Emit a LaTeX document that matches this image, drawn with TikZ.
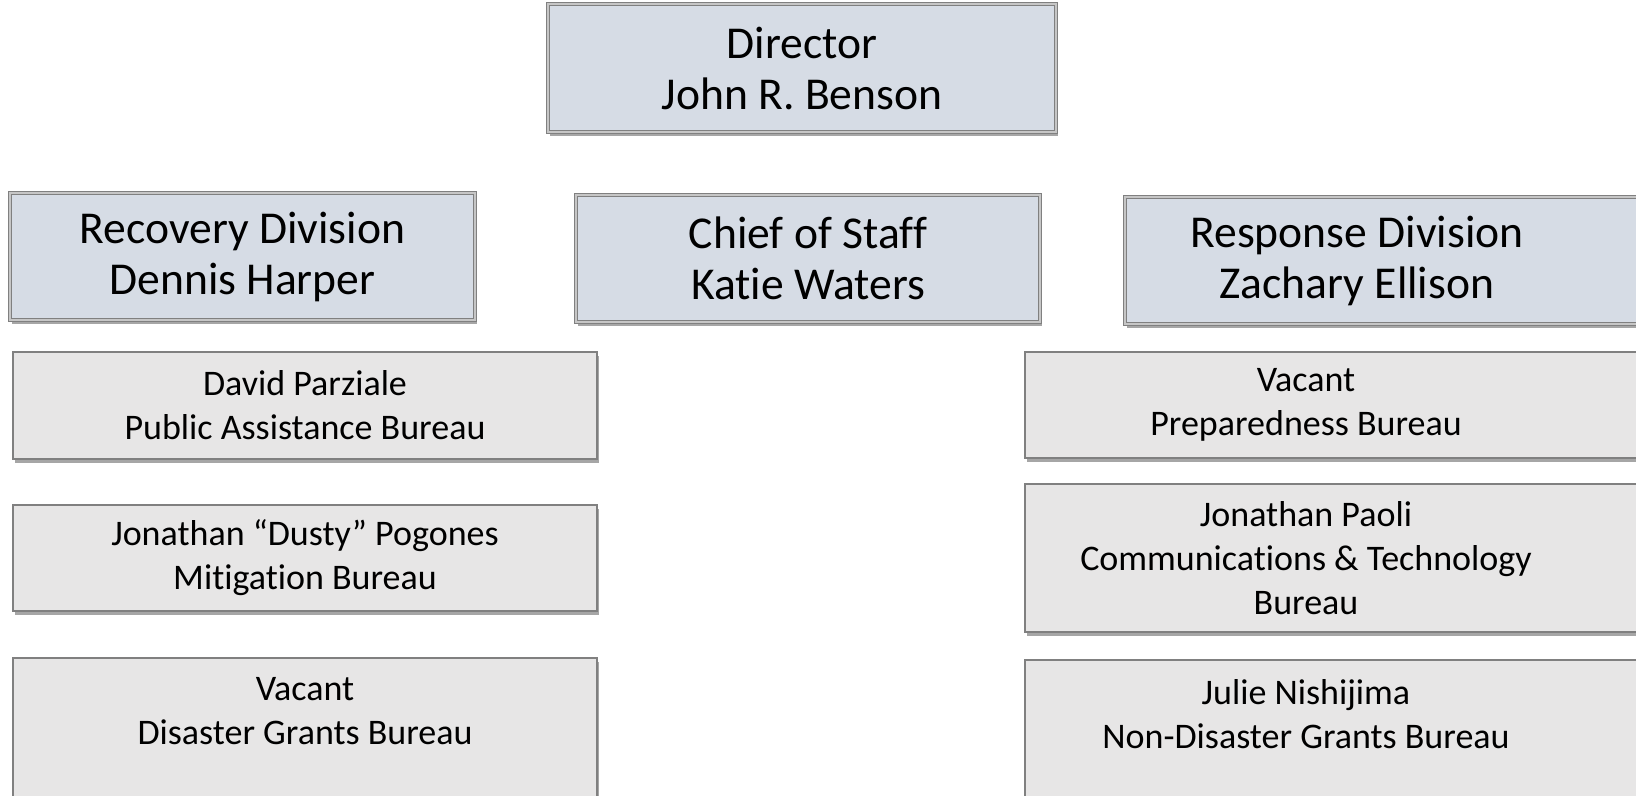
\documentclass[tikz,border=0pt]{standalone}
\usepackage{fontspec}
\setmainfont{Carlito}[Ligatures={TeX,NoCommon}]
\usepackage{xcolor}
\usetikzlibrary{shadows}

\definecolor{headfill}{RGB}{214,220,229}
\definecolor{bureaufill}{RGB}{231,230,230}
\definecolor{boxline}{RGB}{128,128,128}

\tikzset{
	boxshadow/.style={drop shadow={shadow xshift=1.2pt, shadow yshift=-2pt, opacity=0.35, fill=black}},
	headtext/.style={font=\fontsize{22.8}{25.5}\selectfont, align=center},
	bureautext/.style={font=\fontsize{18}{22}\selectfont, align=center},
	headbox/.style={rectangle, draw=boxline, line width=0.45pt, double=boxline!45, double distance=1.4pt,
		fill=headfill, boxshadow, inner sep=0pt, headtext},
	bureaubox/.style={rectangle, draw=boxline, line width=1pt, fill=bureaufill, boxshadow,
		inner sep=0pt, bureautext}
}

\begin{document}
\begin{tikzpicture}[x=0.5pt, y=-0.5pt]
	\useasboundingbox[fill=white] (0,0) rectangle (1636,796);

	% top row
	\node[headbox, minimum width=254pt, minimum height=64pt] (director) at (802,68) {Director\\John R. Benson};
	\node[headbox, minimum width=232.5pt, minimum height=63.5pt] (recovery) at (242.5,256.5) {Recovery Division\\Dennis Harper};
	\node[headbox, minimum width=232pt, minimum height=63.5pt] (chief) at (808,258.5) {Chief of Staff\\Katie Waters};
	\node[headbox, minimum width=287.5pt, minimum height=63.5pt,
		label={[headtext, xshift=-27.75pt]center:{Response Division\\Zachary Ellison}}] (response) at (1412.5,260.5) {};

	% recovery bureaus
	\node[bureaubox, minimum width=292pt, minimum height=53.5pt] (pab) at (305,405.5) {David Parziale\\Public Assistance Bureau};
	\node[bureaubox, minimum width=292pt, minimum height=53pt] (mitigation) at (305,558) {Jonathan “Dusty” Pogones\\Mitigation Bureau};
	\node[bureaubox, minimum width=292pt, minimum height=86pt,
		label={[bureautext, yshift=16.25pt]center:{Vacant\\Disaster Grants Bureau}}] (dgb) at (305,744) {};

	% response bureaus
	\node[bureaubox, minimum width=337.5pt, minimum height=53pt,
		label={[bureautext, xshift=-28.25pt]center:{Vacant\\Preparedness Bureau}}] (preparedness) at (1362.5,405) {};
	\node[bureaubox, minimum width=337.5pt, minimum height=74pt,
		label={[bureautext, xshift=-28.25pt]center:{Jonathan Paoli\\Communications \& Technology\\Bureau}}] (commtech) at (1362.5,558) {};
	\node[bureaubox, minimum width=337.5pt, minimum height=85pt,
		label={[bureautext, xshift=-28.25pt, yshift=15.5pt]center:{Julie Nishijima\\Non-Disaster Grants Bureau}}] (ndgb) at (1362.5,745) {};
\end{tikzpicture}
\end{document}
